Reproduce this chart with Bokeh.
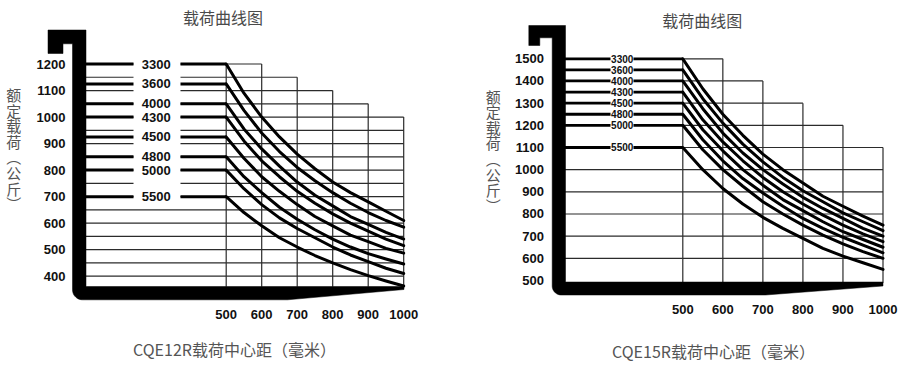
import numpy as np
from bokeh.plotting import figure
from bokeh.layouts import row
from bokeh.models import Range1d
from bokeh.core.properties import value
from bokeh.embed import file_html
from bokeh.resources import INLINE

# ---------------- data ----------------
load_centers = [500, 550, 600, 650, 700, 750, 800, 850, 900, 950, 1000]
x_ticks = [500, 600, 700, 800, 900, 1000]
mast_heights = ["3300", "3600", "4000", "4300", "4500", "4800", "5000", "5500"]

# CQE12R
y_ticks_12 = [400, 500, 600, 700, 800, 900, 1000, 1100, 1200]
rated_12 = [1200, 1125, 1050, 1000, 925, 850, 800, 700]
curve_12_3300 = [1200, 1090, 1000, 925, 860, 805, 755, 715, 680, 645, 610]
curve_12_3600 = [1125, 1025, 940, 870, 810, 760, 715, 675, 640, 610, 585]
curve_12_4000 = [1050, 955, 880, 815, 755, 705, 665, 625, 595, 565, 540]
curve_12_4300 = [1000, 910, 835, 775, 720, 675, 635, 600, 570, 540, 515]
curve_12_4500 = [925, 845, 775, 720, 670, 625, 590, 555, 530, 505, 487]
curve_12_4800 = [850, 775, 715, 660, 615, 575, 540, 510, 485, 465, 446]
curve_12_5000 = [800, 730, 670, 620, 580, 545, 510, 480, 455, 430, 410]
curve_12_5500 = [700, 640, 590, 545, 510, 478, 450, 425, 402, 382, 363]
curves_12 = [curve_12_3300, curve_12_3600, curve_12_4000, curve_12_4300,
             curve_12_4500, curve_12_4800, curve_12_5000, curve_12_5500]
grid_levels_12 = [400, 450, 500, 550, 600, 650, 700, 750, 800, 850, 900,
                  950, 1000, 1050, 1100, 1150, 1200]
step_tops_12 = [1200, 1150, 1100, 1050, 1000]

# CQE15R
y_ticks_15 = [500, 600, 700, 800, 900, 1000, 1100, 1200, 1300, 1400, 1500]
rated_15 = [1500, 1450, 1400, 1350, 1300, 1250, 1200, 1100]
curve_15_3300 = [1500, 1365, 1250, 1155, 1070, 1000, 940, 880, 835, 790, 750]
curve_15_3600 = [1450, 1320, 1210, 1115, 1035, 965, 905, 855, 805, 765, 725]
curve_15_4000 = [1400, 1275, 1165, 1075, 1000, 935, 875, 825, 780, 735, 700]
curve_15_4300 = [1350, 1225, 1125, 1040, 965, 900, 845, 795, 750, 710, 675]
curve_15_4500 = [1300, 1180, 1085, 1000, 930, 865, 815, 765, 720, 685, 650]
curve_15_4800 = [1250, 1135, 1040, 960, 895, 835, 780, 735, 695, 660, 625]
curve_15_5000 = [1200, 1090, 1000, 925, 855, 800, 750, 705, 665, 630, 600]
curve_15_5500 = [1100, 1000, 915, 845, 785, 735, 690, 645, 610, 580, 550]
curves_15 = [curve_15_3300, curve_15_3600, curve_15_4000, curve_15_4300,
             curve_15_4500, curve_15_4800, curve_15_5000, curve_15_5500]
grid_levels_15 = [600, 700, 800, 900, 1000, 1100, 1200, 1300, 1400, 1500]
step_tops_15 = [1500, 1400, 1300, 1200, 1100]

# ---------------- layout (pixel geometry of the page) ----------------
W, H = 450, 365
NUM_FONT = value("Liberation Sans")
CJK_FONT = value("Noto Sans CJK SC")

LEFT = dict(
    fig_x=0, cx0=225.7, sx=0.355, vref=1200, vy0=63.5, sy=0.26525,
    baseline=360, label_max=1200, gap_min=700, gap=(133, 180), label_cx=155.7,
    label_size="13px", thick_w=3.0, ytick_right=65, xtick_y=313.5,
    fork=dict(hook_l=47.5, leg_r=62.5, notch_b=53, band_b=43.3, top=29.5,
              mast_l=72, mast_r=85.5, bar_t=286, bar_b=299.3, taper_x=287,
              tip_x=403.5, tip_b=289, r=10),
    title_xy=(222.5, 16.7), xtitle_xy=(234, 348), ytitle_x=13.3, ytitle_y0=94,
    model="CQE12R",
)
RIGHT = dict(
    fig_x=450, cx0=682.3, sx=0.4004, vref=1500, vy0=58.3, sy=0.2217,
    baseline=490, label_max=1000, gap_min=10 ** 6, gap=(610, 633), label_cx=621.7,
    label_size="10px", thick_w=2.8, ytick_right=543.5, xtick_y=309.3,
    fork=dict(hook_l=528.3, leg_r=539.3, notch_b=45, band_b=37.3, top=25,
              mast_l=551.7, mast_r=565, bar_t=281.5, bar_b=294.5, taper_x=765,
              tip_x=882.5, tip_b=285.5, r=9),
    title_xy=(701.7, 19), xtitle_xy=(713, 350), ytitle_x=492.7, ytitle_y0=95.5,
    model="CQE15R",
)

LINE_COL = "#2b2b2b"


def build_panel(cfg, y_ticks, rated, curves, grid_levels, step_tops):
    X = lambda px: 500 + (px - cfg["cx0"]) / cfg["sx"]
    Y = lambda py: cfg["vref"] + (cfg["vy0"] - py) / cfg["sy"]
    fx0, fy0 = cfg["fig_x"], 0
    p = figure(width=W, height=H,
               x_range=Range1d(X(fx0), X(fx0 + W)),
               y_range=Range1d(Y(fy0 + H), Y(fy0)),
               output_backend="svg", toolbar_location=None,
               x_axis_type=None, y_axis_type=None,
               min_border=0, outline_line_color=None,
               background_fill_color="white", border_fill_color="white")

    mast_in = X(cfg["fork"]["mast_r"] - 1)
    gap0, gap1 = X(cfg["gap"][0]), X(cfg["gap"][1])
    step_starts = x_ticks[:-1]

    # thin grid lines
    x0s, x1s, ys = [], [], []
    for v in grid_levels:
        ends = [s + 100 for s, t in zip(step_starts, step_tops) if t >= v]
        if ends:
            x0s.append(x_ticks[0]); x1s.append(max(ends)); ys.append(v)
        if v <= cfg["label_max"]:
            if v >= cfg["gap_min"]:
                x0s += [mast_in, gap1]; x1s += [gap0, x_ticks[0]]; ys += [v, v]
            else:
                x0s.append(mast_in); x1s.append(x_ticks[0]); ys.append(v)
    p.segment(x0=x0s, y0=ys, x1=x1s, y1=ys, line_color=LINE_COL, line_width=1.2)

    # vertical grid lines (staircase)
    tops = [step_tops[max(k - 1, 0)] for k in range(len(x_ticks))]
    p.segment(x0=x_ticks, y0=[cfg["baseline"]] * len(x_ticks), x1=x_ticks, y1=tops,
              line_color=LINE_COL, line_width=1.2)

    # thick rated-load lines to the 500 mm centre
    n = len(rated)
    p.segment(x0=[mast_in] * n + [gap1] * n, y0=rated + rated,
              x1=[gap0] * n + [x_ticks[0]] * n, y1=rated + rated,
              line_color="black", line_width=cfg["thick_w"])

    # load curves
    p.multi_line(xs=[load_centers] * n, ys=curves, line_color="black",
                 line_width=3, line_join="round", line_cap="round")

    # fork (decoration)
    f = cfg["fork"]
    cx, cy, r = f["mast_l"] + f["r"], f["bar_b"] - f["r"], f["r"]
    t = np.linspace(0, np.pi / 2, 12)
    arc_x = list(cx - r * np.sin(t)); arc_y = list(cy + r * np.cos(t))
    px = ([f["hook_l"], f["mast_r"], f["mast_r"], f["tip_x"], f["tip_x"], f["taper_x"]]
          + arc_x + [f["mast_l"], f["leg_r"], f["leg_r"], f["hook_l"]])
    py = ([f["top"], f["top"], f["bar_t"], f["bar_t"], f["tip_b"], f["bar_b"]]
          + arc_y + [f["band_b"], f["band_b"], f["notch_b"], f["notch_b"]])
    p.patch(x=[X(a) for a in px], y=[Y(b) for b in py], fill_color="black",
            line_color="black", line_width=0.5)

    # curve labels
    p.text(x=[X(cfg["label_cx"])] * n, y=rated, text=mast_heights,
           text_font=NUM_FONT, text_font_style="bold", text_font_size=cfg["label_size"],
           text_align="center", text_baseline="middle", text_color="#111111")

    # tick labels
    p.text(x=[X(cfg["ytick_right"])] * len(y_ticks), y=y_ticks,
           text=[str(v) for v in y_ticks], text_font=NUM_FONT, text_font_style="bold",
           text_font_size="13px", text_align="right", text_baseline="middle",
           text_color="#111111")
    p.text(x=x_ticks, y=[Y(cfg["xtick_y"])] * len(x_ticks),
           text=[str(v) for v in x_ticks], text_font=NUM_FONT, text_font_style="bold",
           text_font_size="13px", text_align="center", text_baseline="middle",
           text_color="#111111")

    # titles
    tx, ty = cfg["title_xy"]
    p.text(x=[X(tx)], y=[Y(ty)], text=["载荷曲线图"], text_font=CJK_FONT,
           text_font_size="16px", text_align="center", text_baseline="middle",
           text_color="#4a4a4a")
    ax, ay = cfg["xtitle_xy"]
    p.text(x=[X(ax)], y=[Y(ay)], text=[cfg["model"] + "载荷中心距（毫米）"],
           text_font=CJK_FONT, text_font_size="16px", text_align="center",
           text_baseline="middle", text_color="#555555")
    chars = ["额", "定", "载", "荷", "︵", "公", "斤", "︶"]
    p.text(x=[X(cfg["ytitle_x"])] * len(chars),
           y=[Y(cfg["ytitle_y0"] + 15.6 * i) for i in range(len(chars))],
           text=chars, text_font=CJK_FONT, text_font_size="15px",
           text_align="center", text_baseline="middle", text_color="#555555")
    return p


p1 = build_panel(LEFT, y_ticks_12, rated_12, curves_12, grid_levels_12, step_tops_12)
p2 = build_panel(RIGHT, y_ticks_15, rated_15, curves_15, grid_levels_15, step_tops_15)
layout = row(p1, p2, spacing=0)

open("out.html", "w").write(file_html(layout, INLINE))
